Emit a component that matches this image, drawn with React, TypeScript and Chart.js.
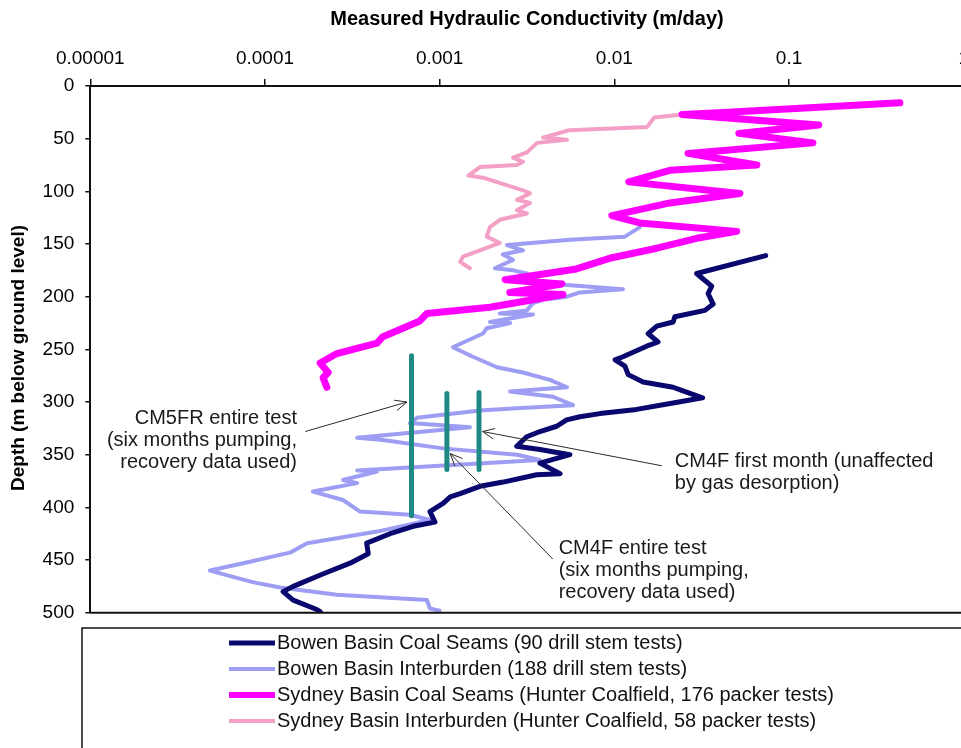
import React, { useEffect, useRef } from 'react';
import { Chart, registerables } from 'chart.js';

Chart.register(...registerables);

const FONT = '"Liberation Sans", Arial, Helvetica, sans-serif';

// ---- Axis definitions ----
const xTitle = 'Measured Hydraulic Conductivity (m/day)';
const yTitle = 'Depth (m below ground level)';
const kTicks = [0.00001, 0.0001, 0.001, 0.01, 0.1, 1];
const kTickLabels = ['0.00001', '0.0001', '0.001', '0.01', '0.1', '1'];
const depthTicks = [0, 50, 100, 150, 200, 250, 300, 350, 400, 450, 500];
const depthTickLabels = ['0', '50', '100', '150', '200', '250', '300', '350', '400', '450', '500'];

// ---- Series names / colours ----
const seriesNames = [
  'Bowen Basin Coal Seams (90 drill stem tests)',
  'Bowen Basin Interburden (188 drill stem tests)',
  'Sydney Basin Coal Seams (Hunter Coalfield, 176 packer tests)',
  'Sydney Basin Interburden (Hunter Coalfield, 58 packer tests)',
];
const seriesColors = ['#08086e', '#9d9df4', '#ff00ff', '#f4a0c6'];
const seriesWidths = [5, 4, 7, 4];
const legendWidths = [5, 4, 6, 4];

// ---- Bowen Basin Coal Seams ----
const bowenCoalDepth = [161, 178, 183, 190, 197, 207, 213, 219, 224, 228, 235, 243, 247, 257, 260, 266, 274, 281, 286, 289, 296, 301, 307, 311, 314, 317, 323, 328, 333, 342, 345, 350, 358, 368, 369, 376, 380, 387, 390, 396, 404, 414, 418, 425, 434, 444, 453, 463, 475, 480, 488, 497, 499];
const bowenCoalK = [0.0735, 0.0296, 0.0321, 0.0361, 0.0344, 0.0368, 0.033, 0.0222, 0.0217, 0.0175, 0.0156, 0.0178, 0.0153, 0.0112, 0.0101, 0.0115, 0.012, 0.0146, 0.0217, 0.0243, 0.032, 0.0217, 0.0134, 0.00827, 0.00635, 0.00533, 0.00468, 0.00375, 0.00315, 0.00276, 0.00375, 0.00557, 0.00375, 0.00489, 0.00359, 0.00231, 0.0017, 0.00131, 0.00115, 0.00105, 0.00088, 0.00094, 0.000706, 0.00052, 0.000382, 0.00039, 0.000307, 0.000216, 0.000145, 0.000127, 0.000145, 0.000198, 0.000207];

// ---- Bowen Basin Interburden ----
const bowenInterDepth = [134, 143, 146, 151, 156, 160, 165, 173, 175, 178, 184, 189, 193, 196, 200, 203, 206, 213, 216, 217, 224, 225, 230, 235, 248, 257, 267, 272, 279, 286, 290, 295, 303, 306, 308, 315, 320, 324, 334, 336, 344, 350, 355, 365, 366, 374, 377, 385, 393, 404, 407, 412, 423, 434, 443, 453, 460, 471, 476, 483, 488, 496, 498];
const bowenInterK = [0.014, 0.0115, 0.00557, 0.00243, 0.003, 0.0023, 0.00263, 0.00207, 0.00263, 0.00316, 0.00342, 0.00536, 0.0112, 0.00635, 0.00536, 0.00391, 0.00342, 0.00316, 0.00221, 0.00342, 0.00194, 0.00253, 0.00186, 0.00177, 0.00119, 0.00155, 0.00213, 0.003, 0.00428, 0.00536, 0.00253, 0.00445, 0.0058, 0.00277, 0.0017, 0.000741, 0.000676, 0.00149, 0.000337, 0.000473, 0.00104, 0.00277, 0.00375, 0.000337, 0.000438, 0.00028, 0.000337, 0.000188, 0.00028, 0.00035, 0.000676, 0.00088, 0.000438, 0.000174, 0.000139, 0.000075, 0.0000484, 0.000085, 0.000122, 0.000258, 0.000845, 0.00088, 0.001];

// ---- Sydney Basin Coal Seams ----
const sydneyCoalDepth = [16, 25, 27, 37, 45, 54, 64, 75, 80, 91, 102, 111, 123, 130, 138, 144, 154, 163, 174, 179, 184, 188, 196, 198, 210, 216, 223, 238, 244, 254, 263, 272, 277, 286];
const sydneyCoalK = [0.431, 0.0447, 0.0244, 0.148, 0.0516, 0.137, 0.0264, 0.0655, 0.0208, 0.0121, 0.0524, 0.0208, 0.00968, 0.014, 0.0502, 0.0308, 0.0175, 0.00968, 0.00594, 0.00375, 0.00237, 0.00501, 0.00252, 0.00508, 0.00194, 0.000845, 0.00077, 0.000473, 0.000438, 0.000258, 0.000207, 0.00023, 0.000215, 0.000226];

// ---- Sydney Basin Interburden ----
const sydneyInterDepth = [24, 25, 27, 30, 39, 42, 49, 51, 54, 63, 68, 72, 75, 77, 85, 87, 99, 102, 108, 111, 118, 121, 127, 134, 143, 149, 156, 162, 167, 173];
const sydneyInterK = [0.056, 0.0441, 0.0247, 0.0169, 0.0154, 0.0055, 0.00391, 0.00536, 0.00361, 0.00316, 0.00263, 0.003, 0.00277, 0.0017, 0.00146, 0.00177, 0.003, 0.00329, 0.00277, 0.00329, 0.00277, 0.00316, 0.00221, 0.00194, 0.00186, 0.00221, 0.0017, 0.00136, 0.00131, 0.00149];

// ---- Pumping tests (vertical bars) ----
const testNames = ['CM5FR entire test', 'CM4F entire test', 'CM4F first month'];
const testK = [0.00069, 0.0011, 0.00168];
const testTopDepth = [256, 292, 291];
const testBottomDepth = [408, 364, 364];
const testColor = '#1f8a84';

// ---- Annotations (text anchored in data space) ----
const annotLines = [
  ['CM5FR entire test', '(six months pumping,', 'recovery data used)'],
  ['CM4F entire test', '(six months pumping,', 'recovery data used)'],
  ['CM4F first month (unaffected', 'by gas desorption)'],
];
const annotAlign = ['right', 'left', 'left'];
const annotK = [0.0001525, 0.0048, 0.0222];
const annotDepth = [316, 439.5, 356];
const arrowFromK = [0.00017, 0.00444, 0.0187];
const arrowFromDepth = [328, 449, 360.5];
const arrowToK = [0.00065, 0.00115, 0.00176];
const arrowToDepth = [300, 349, 328];

function zip(k: number[], d: number[]) {
  const n = Math.min(k.length, d.length);
  const out: { x: number; y: number }[] = [];
  for (let i = 0; i < n; i++) out.push({ x: k[i], y: d[i] });
  return out;
}

const framePlugin = {
  id: 'frameLegendAnnot',
  afterDraw(chart: any) {
    const { ctx, chartArea, scales } = chart;
    const xs = scales.x;
    const ys = scales.y;
    ctx.save();
    // bottom frame line
    ctx.strokeStyle = '#111';
    ctx.lineWidth = 2;
    ctx.beginPath();
    ctx.moveTo(chartArea.left, chartArea.bottom);
    ctx.lineTo(chartArea.right, chartArea.bottom);
    ctx.stroke();

    // y axis title
    ctx.save();
    ctx.translate(18.5, 358);
    ctx.rotate(-Math.PI / 2);
    ctx.font = 'bold 19px ' + FONT;
    ctx.fillStyle = '#000';
    ctx.textAlign = 'center';
    ctx.textBaseline = 'middle';
    ctx.fillText(yTitle, 0, 0);
    ctx.restore();

    // annotations
    ctx.font = '20px ' + FONT;
    ctx.fillStyle = '#1a1a1a';
    ctx.textBaseline = 'middle';
    for (let i = 0; i < annotLines.length; i++) {
      const ax = xs.getPixelForValue(annotK[i]);
      const ay = ys.getPixelForValue(annotDepth[i]);
      ctx.textAlign = annotAlign[i] as CanvasTextAlign;
      annotLines[i].forEach((line, j) => ctx.fillText(line, ax, ay + j * 22));
      const fx = xs.getPixelForValue(arrowFromK[i]);
      const fy = ys.getPixelForValue(arrowFromDepth[i]);
      const tx = xs.getPixelForValue(arrowToK[i]);
      const ty = ys.getPixelForValue(arrowToDepth[i]);
      ctx.strokeStyle = '#2a2a2a';
      ctx.lineWidth = 1;
      ctx.beginPath();
      ctx.moveTo(fx, fy);
      ctx.lineTo(tx, ty);
      const ang = Math.atan2(ty - fy, tx - fx);
      const hl = 13;
      const spread = 0.42;
      ctx.moveTo(tx - hl * Math.cos(ang - spread), ty - hl * Math.sin(ang - spread));
      ctx.lineTo(tx, ty);
      ctx.lineTo(tx - hl * Math.cos(ang + spread), ty - hl * Math.sin(ang + spread));
      ctx.stroke();
    }

    // legend box
    ctx.strokeStyle = '#111';
    ctx.lineWidth = 1.5;
    ctx.strokeRect(82, 628, 1000, 200);
    ctx.textAlign = 'left';
    ctx.font = '20px ' + FONT;
    for (let i = 0; i < seriesNames.length; i++) {
      const y = 643 + i * 26;
      ctx.strokeStyle = seriesColors[i];
      ctx.lineWidth = legendWidths[i];
      ctx.lineCap = 'butt';
      ctx.beginPath();
      ctx.moveTo(229, y);
      ctx.lineTo(275, y);
      ctx.stroke();
      ctx.fillStyle = '#111';
      ctx.fillText(seriesNames[i], 277, y);
    }
    ctx.restore();
  },
};

export default function App() {
  const ref = useRef<HTMLCanvasElement | null>(null);
  useEffect(() => {
    const canvas = ref.current;
    if (!canvas) return;
    const seriesData = [
      zip(bowenCoalK, bowenCoalDepth),
      zip(bowenInterK, bowenInterDepth),
      zip(sydneyCoalK, sydneyCoalDepth),
      zip(sydneyInterK, sydneyInterDepth),
    ];
    const seriesOrder = [2, 3, 1, 4];
    const datasets: any[] = seriesData.map((d, i) => ({
      label: seriesNames[i],
      data: d,
      showLine: true,
      borderColor: seriesColors[i],
      backgroundColor: seriesColors[i],
      borderWidth: seriesWidths[i],
      pointRadius: 0,
      borderJoinStyle: 'round',
      borderCapStyle: 'round',
      tension: 0,
      order: seriesOrder[i],
    }));
    testNames.forEach((name, i) => {
      datasets.push({
        label: name,
        data: [
          { x: testK[i], y: testTopDepth[i] },
          { x: testK[i], y: testBottomDepth[i] },
        ],
        showLine: true,
        borderColor: testColor,
        backgroundColor: testColor,
        borderWidth: 5,
        pointRadius: 0,
        borderCapStyle: 'round',
        order: 0,
      });
    });

    const chart = new Chart(canvas, {
      type: 'scatter',
      data: { datasets },
      options: {
        responsive: false,
        animation: false,
        devicePixelRatio: 1,
        events: [],
        layout: { padding: { left: 0, top: 0, right: 36.3, bottom: 135.3 } },
        plugins: { legend: { display: false }, tooltip: { enabled: false } },
        scales: {
          x: {
            type: 'logarithmic',
            position: 'top',
            min: 0.00001,
            max: 1,
            afterBuildTicks: (s: any) => {
              s.ticks = kTicks.map((v) => ({ value: v }));
            },
            afterFit: (s: any) => {
              s.height = 86;
              s.paddingLeft = 0;
              s.paddingRight = 0;
            },
            ticks: {
              callback: (_v: any, i: number) => kTickLabels[i],
              font: { family: FONT, size: 19 },
              color: '#000',
              padding: 9,
              maxRotation: 0,
              autoSkip: false,
            },
            grid: { drawOnChartArea: false, drawTicks: true, tickLength: 7, color: '#111', lineWidth: 1.5 },
            border: { display: true, color: '#111', width: 2 },
            title: {
              display: true,
              text: xTitle,
              font: { family: FONT, size: 20, weight: 'bold' },
              color: '#000',
              padding: { top: 7, bottom: 0 },
            },
          },
          y: {
            type: 'linear',
            reverse: true,
            min: 0,
            max: 500,
            afterBuildTicks: (s: any) => {
              s.ticks = depthTicks.map((v) => ({ value: v }));
            },
            afterFit: (s: any) => {
              s.width = 90.3;
            },
            ticks: {
              callback: (_v: any, i: number) => depthTickLabels[i],
              font: { family: FONT, size: 19 },
              color: '#000',
              padding: 11,
              autoSkip: false,
            },
            grid: { drawOnChartArea: false, drawTicks: true, tickLength: 5, color: '#111', lineWidth: 1.5 },
            border: { display: true, color: '#111', width: 2 },
            title: { display: false, text: yTitle },
          },
        },
      },
      plugins: [framePlugin],
    } as any);
    return () => chart.destroy();
  }, []);

  return (
    <div
      style={{
        position: 'fixed',
        left: 0,
        top: 0,
        width: 961,
        height: 748,
        overflow: 'hidden',
        background: '#fff',
      }}
    >
      <canvas ref={ref} width={1000} height={748} style={{ display: 'block', width: 1000, height: 748 }} />
    </div>
  );
}
